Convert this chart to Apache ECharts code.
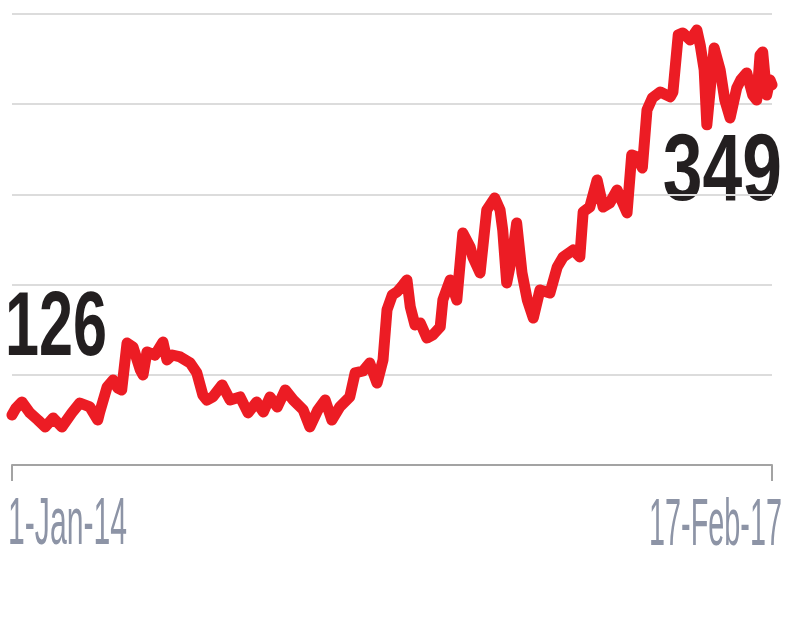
<!DOCTYPE html>
<html>
<head>
<meta charset="utf-8">
<script src="https://cdn.jsdelivr.net/npm/echarts@6/dist/echarts.min.js"></script>
<style>
html,body{margin:0;padding:0;background:#fff;}
#chart{width:801px;height:640px;}
</style>
</head>
<body>
<div id="chart"></div>
<script>
// Days since 1-Jan-14
const days = [0,6,15,27,39,50,62,75,90,102,117,129,132,143,152,159,165,173,182,193,197,203,215,227,233,241,253,268,278,287,293,302,316,328,343,355,368,378,388,399,411,423,438,448,460,471,481,493,508,516,528,538,549,558,564,572,579,588,594,599,606,614,624,633,644,648,659,669,678,689,693,704,714,726,734,738,744,753,759,767,775,784,794,809,820,829,844,854,859,869,880,889,899,910,925,932,940,948,955,963,975,990,994,1002,1009,1020,1030,1035,1041,1045,1050,1056,1065,1072,1080,1090,1096,1105,1114,1120,1125,1129,1135,1140,1143];
const prices = [126.0,130.7,134.8,127.4,122.6,117.9,124.0,117.9,127.4,134.1,131.4,122.6,128.0,144.9,149.6,144.2,142.9,174.6,171.9,156.4,153.0,168.6,166.5,175.3,163.2,166.5,165.2,161.1,154.4,139.5,136.1,138.2,146.3,136.1,138.2,127.4,134.8,128.0,138.2,131.4,142.9,136.1,129.4,117.9,129.4,136.1,122.6,131.4,138.2,154.4,155.7,161.1,147.6,163.2,197.0,207.1,209.1,213.8,217.2,199.0,186.8,188.2,178.0,180.1,185.5,203.7,217.2,203.7,249.0,239.5,232.8,222.0,264.5,272.6,264.5,251.0,215.2,235.5,255.7,222.0,203.7,191.5,210.5,208.4,226.0,232.8,237.5,232.8,263.2,266.5,284.8,266.5,269.2,278.0,262.5,301.7,300.3,292.9,332.1,340.2,344.2,340.9,344.2,382.8,384.1,379.4,386.1,376.0,359.1,322.0,345.6,374.0,359.1,338.8,326.7,347.0,352.4,357.1,342.2,338.8,369.2,371.3,342.2,352.4,349.0];
const xTickLabels = ['1-Jan-14', '17-Feb-17'];
const gridLevels = [0, 1, 2, 3, 4, 5];

const chart = echarts.init(document.getElementById('chart'), null, {renderer: 'canvas'});
const lastIdx = prices.length - 1;
const option = {
  animation: false,
  backgroundColor: '#ffffff',
  grid: {left: 12, right: 29, top: 14, bottom: 175, containLabel: false},
  xAxis: {
    type: 'value',
    min: days[0],
    max: days[lastIdx],
    interval: days[lastIdx] - days[0],
    axisLine: {show: true, lineStyle: {color: '#a3a3a3', width: 2}},
    axisTick: {show: true, length: 16, lineStyle: {color: '#a3a3a3', width: 2}},
    axisLabel: {show: false},
    splitLine: {show: false}
  },
  yAxis: [
    {
      type: 'value',
      min: gridLevels[0],
      max: gridLevels[gridLevels.length - 1],
      interval: 1,
      axisLine: {show: false},
      axisTick: {show: false},
      axisLabel: {show: false},
      splitLine: {show: true, lineStyle: {color: '#dcdcdc', width: 2}}
    },
    {
      type: 'value',
      min: 92.2,
      max: 396.9,
      axisLine: {show: false},
      axisTick: {show: false},
      axisLabel: {show: false},
      splitLine: {show: false}
    }
  ],
  series: [{
    type: 'line',
    yAxisIndex: 1,
    data: days.map((d, i) => [d, prices[i]]),
    showSymbol: false,
    symbol: 'none',
    clip: false,
    lineStyle: {color: '#ec1c24', width: 11, join: 'round', cap: 'round'}
  }],
  graphic: [
    {type: 'text', x: 8, y: 526, scaleX: 0.45, scaleY: 1, originX: 0,
      style: {text: xTickLabels[0], font: '67px "Liberation Sans", Arial, sans-serif', fill: '#8d94a6', align: 'left', verticalAlign: 'middle'}},
    {type: 'text', x: 782, y: 527, scaleX: 0.43, scaleY: 1, originX: 0,
      style: {text: xTickLabels[1], font: '67px "Liberation Sans", Arial, sans-serif', fill: '#8d94a6', align: 'right', verticalAlign: 'middle'}},
    {type: 'text', x: 5, y: 330, scaleX: 0.68, scaleY: 1,
      style: {text: String(Math.round(prices[0])), font: 'bold 90px "Liberation Sans", Arial, sans-serif', fill: '#231f20', align: 'left', verticalAlign: 'middle'}},
    {type: 'text', x: 782, y: 174, scaleX: 0.76, scaleY: 1,
      style: {text: String(Math.round(prices[lastIdx])), font: 'bold 94px "Liberation Sans", Arial, sans-serif', fill: '#231f20', align: 'right', verticalAlign: 'middle'}}
  ]
};
chart.setOption(option);
</script>
</body>
</html>
